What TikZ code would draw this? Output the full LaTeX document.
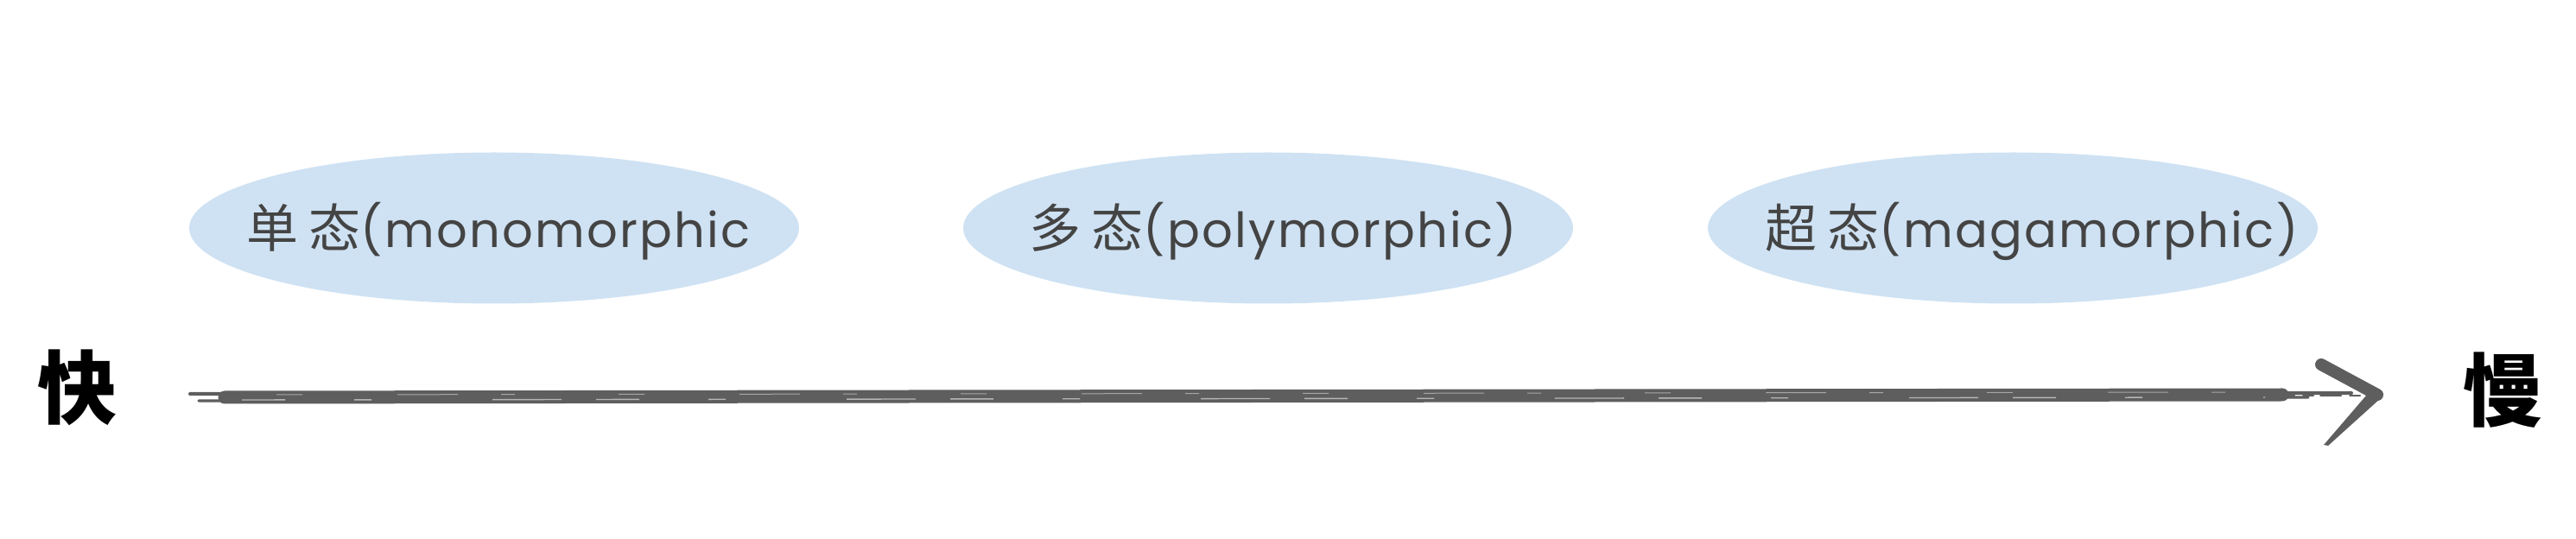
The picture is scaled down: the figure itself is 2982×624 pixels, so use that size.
\documentclass[tikz,border=0pt]{standalone}
\usepackage{fontspec}
\usetikzlibrary{shapes.geometric,calc}
\newfontfamily\cjk{Noto Sans CJK SC}
\newfontfamily\lat[LetterSpace=4]{Poppins}
\definecolor{bubblefill}{HTML}{CFE2F3}
\definecolor{labeltext}{HTML}{444444}
\definecolor{brushgray}{HTML}{5E5E5E}
\begin{document}
\begin{tikzpicture}[x=0.5pt,y=-0.5pt,
  bubble/.style={ellipse, fill=bubblefill, draw=none, minimum width=353pt, minimum height=87.5pt, inner sep=0pt},
  lbl/.style={text=labeltext, inner sep=0pt, font=\fontsize{28}{32}\selectfont},
  endword/.style={font=\cjk\bfseries\fontsize{46}{50}\selectfont, text=black, inner sep=0pt},
  brush/.style={draw=brushgray, line cap=round},
  streak/.style={draw=white, line cap=butt}]
\useasboundingbox (0,0) rectangle (2982,624);
% bubbles
\node[bubble] (b1) at (572,264) {};
\node[bubble] (b2) at (1468,264) {};
\node[bubble] (b3) at (2330,264) {};
\node[lbl] (t1) at (577,268) {{\cjk\fontsize{30}{32}\selectfont 单\hspace{6pt}态}{\lat (monomorphic}};
\node[lbl] (t2) at (1474,268) {{\cjk\fontsize{30}{32}\selectfont 多\hspace{6pt}态}{\lat (polymorphic)}};
\node[lbl] (t3) at (2352,268) {{\cjk\fontsize{30}{32}\selectfont 超\hspace{6pt}态}{\lat (magamorphic)}};
% end words
\node[endword] (fast) at (89,449) {快};
\node[endword] (slow) at (2897,452) {慢};
% arrow
\coordinate (a0) at (220,460);
\coordinate (a1) at (2752,457);
\draw[brush, line width=7.5pt] ($(a0)+(40,0)$) -- ($(a1)+(-110,0)$);
\draw[brush, line width=2pt, dash pattern=on 120pt off 4pt on 60pt off 3pt on 200pt off 5pt] ($(a0)+(0,-4)$) -- ($(a1)+(-30,-2)$);
\draw[brush, line width=1.6pt, dash pattern=on 90pt off 6pt on 40pt off 8pt on 20pt off 6pt] ($(a0)+(10,4)$) -- ($(a1)+(-80,3)$);
\draw[brush, line width=1pt, dash pattern=on 12pt off 5pt on 6pt off 4pt] ($(a1)+(-120,1)$) -- ($(a1)+(-20,1)$);
\draw[streak, opacity=0.55, line width=0.7pt, dash pattern=on 25pt off 40pt on 10pt off 70pt on 40pt off 20pt] ($(a0)+(60,3)$) -- ($(a1)+(-130,3)$);
\draw[streak, opacity=0.45, line width=0.5pt, dash pattern=on 15pt off 55pt on 35pt off 25pt on 8pt off 60pt] ($(a0)+(100,-3)$) -- ($(a1)+(-130,-3)$);
\draw[brush, line width=7pt] ($(a1)+(-65,-35)$) -- (a1);
\fill[brushgray] ($(a1)+(-7,-6)$) -- ($(a1)+(5,3)$) -- ($(a1)+(-57,59)$) -- ($(a1)+(-62,58)$) -- cycle;
\end{tikzpicture}
\end{document}
